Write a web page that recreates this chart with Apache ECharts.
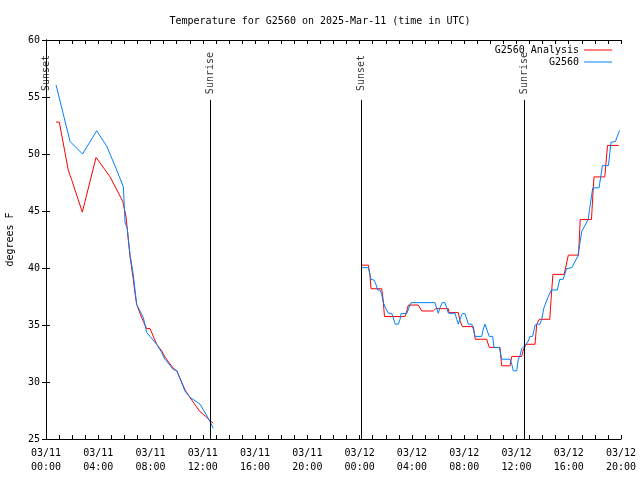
<!DOCTYPE html>
<html>
<head>
<meta charset="utf-8">
<script src="https://cdn.jsdelivr.net/npm/echarts@6/dist/echarts.min.js"></script>
<style>html,body{margin:0;padding:0;background:#fff}#c{width:640px;height:480px}</style>
</head>
<body>
<div id="c"></div>
<script>
// Times are hours since 03/11 00:00 UTC
const titleText = 'Temperature for G2560 on 2025-Mar-11 (time in UTC)';
const yAxisName = 'degrees F';
const xMin = 0, xMax = 44, yMin = 25, yMax = 60;
const dayLabels = ['03/11', '03/12'];

const analysisLeft = [[0.77,52.8],[1.02,52.8],[1.7,48.6],[1.96,47.75],[2.78,44.9],[3.83,49.7],[4.9,48.0],[5.87,45.85],[5.92,45.7],[6.12,44.54],[6.22,43.4],[6.43,41.0],[6.68,39.0],[6.81,37.8],[6.94,36.8],[7.2,36.0],[7.45,35.3],[7.7,34.69],[7.96,34.69],[8.47,33.3],[8.85,32.73],[9.0,32.73],[9.1,32.2],[9.74,31.2],[10.0,31.0],[10.64,29.3],[11.1,28.5],[11.78,27.4],[12.03,27.17],[12.3,26.9],[12.55,26.6],[12.8,26.4]];
const stationLeft = [[0.77,56.06],[1.84,51.1],[2.8,50.0],[3.88,52.04],[4.64,50.7],[5.41,48.6],[5.92,47.1],[5.97,47.0],[6.05,43.96],[6.22,43.5],[6.3,42.5],[6.43,41.2],[6.68,39.4],[6.81,38.1],[6.94,36.8],[7.45,35.65],[7.7,34.35],[7.96,34.0],[8.47,33.3],[8.85,32.6],[9.1,32.0],[9.74,31.1],[10.0,31.0],[10.64,29.2],[11.02,28.65],[11.78,28.07],[11.91,27.92],[12.24,27.17],[12.55,26.52],[12.8,25.94]];

const analysisRight = [[24.16,40.25],[24.67,40.25],[24.79,39.4],[24.87,38.18],[25.69,38.18],[25.81,37.1],[25.9,35.74],[27.47,35.74],[27.6,36.2],[27.73,36.75],[28.49,36.75],[28.75,36.23],[29.64,36.23],[29.82,36.43],[30.79,36.43],[30.84,36.09],[31.55,36.09],[31.68,35.35],[31.86,34.86],[32.7,34.86],[32.85,33.75],[33.72,33.75],[33.92,33.03],[34.74,33.03],[34.82,32.0],[34.87,31.42],[35.51,31.42],[35.64,32.24],[36.4,32.24],[36.52,32.8],[36.73,33.31],[37.42,33.31],[37.55,35.07],[37.75,35.5],[38.55,35.5],[38.65,37.25],[38.79,39.44],[39.65,39.44],[39.97,41.13],[40.75,41.13],[40.88,44.25],[41.74,44.25],[41.93,47.99],[42.76,47.99],[42.97,50.75],[43.83,50.75]];
const stationRight = [[24.16,40.03],[24.67,40.03],[24.79,39.44],[24.87,39.0],[25.1,38.94],[25.25,38.56],[25.38,38.07],[25.56,38.07],[25.69,37.69],[25.81,36.96],[26.02,36.43],[26.19,36.03],[26.45,36.03],[26.53,35.79],[26.73,35.07],[26.96,35.07],[27.09,35.5],[27.17,36.0],[27.6,36.0],[27.93,36.96],[28.24,36.96],[29.77,36.96],[29.9,36.43],[30.02,36.03],[30.15,36.52],[30.33,36.96],[30.53,36.96],[30.66,36.52],[30.79,36.03],[31.3,36.03],[31.43,35.5],[31.55,35.07],[31.68,35.5],[31.86,36.0],[32.06,36.0],[32.32,35.07],[32.58,35.07],[32.7,34.63],[32.83,34.0],[33.34,34.0],[33.46,34.63],[33.59,35.07],[33.72,34.63],[33.92,34.0],[34.18,34.0],[34.28,33.03],[34.69,33.03],[34.87,32.0],[35.51,32.0],[35.64,31.57],[35.76,30.98],[36.02,30.98],[36.14,32.0],[36.27,32.29],[36.4,32.94],[36.65,33.17],[36.78,33.31],[36.91,33.6],[37.04,34.0],[37.24,34.0],[37.42,34.98],[37.6,35.07],[37.8,35.07],[37.95,35.6],[38.1,36.5],[38.4,37.4],[38.66,38.07],[39.13,38.07],[39.31,39.0],[39.57,39.0],[39.84,39.94],[40.23,40.03],[40.7,41.04],[41.0,43.23],[41.49,44.25],[41.59,45.13],[41.84,47.03],[42.32,47.03],[42.58,48.98],[43.04,48.98],[43.23,51.02],[43.57,51.1],[43.89,52.07]];

const eventTimes = [0.0, 12.58, 24.16, 36.6];
const eventNames = ['Sunset', 'Sunrise', 'Sunset', 'Sunrise'];
const eventLineTop = 54.75;
const eventLabelY = 57.1;

const FONT = 'DejaVu Sans Mono';
const gap = [[18, null]];

function xLabel(v) {
  if (v % 4 !== 0) return '';
  const d = Math.floor(v / 24);
  const h = v % 24;
  return dayLabels[d] + '\n' + (h < 10 ? '0' : '') + h + ':00';
}

const chart = echarts.init(document.getElementById('c'), null, {renderer: 'canvas'});
const axisCommon = {
  axisLine: {show: true, lineStyle: {color: '#000', width: 1}},
  axisTick: {show: true, inside: true, length: 4, lineStyle: {color: '#000'}},
  splitLine: {show: false}
};
chart.setOption({
  animation: false,
  backgroundColor: '#fff',
  title: {text: titleText, left: 'center', top: 11, textStyle: {fontFamily: FONT, fontSize: 10, fontWeight: 'normal', color: '#000'}},
  legend: {
    orient: 'vertical', right: 23, top: 40, align: 'right', itemWidth: 28, itemHeight: 1, itemGap: 2, icon: 'rect',
    textStyle: {fontFamily: FONT, fontSize: 10, color: '#000'},
    data: ['G2560 Analysis', 'G2560']
  },
  grid: {left: 46, right: 19, top: 40, bottom: 41, containLabel: false, outerBoundsMode: 'none'},
  xAxis: [
    Object.assign({type: 'value', min: xMin, max: xMax, interval: 1, position: 'bottom',
      axisLabel: {formatter: xLabel, fontFamily: FONT, fontSize: 10, color: '#000', lineHeight: 14, margin: 7}}, axisCommon),
    Object.assign({type: 'value', min: xMin, max: xMax, interval: 1, position: 'top', axisLabel: {show: false}}, axisCommon)
  ],
  yAxis: [
    Object.assign({type: 'value', min: yMin, max: yMax, interval: 5, position: 'left', name: yAxisName, nameLocation: 'middle', nameGap: 31,
      nameTextStyle: {fontFamily: FONT, fontSize: 10, color: '#000'},
      axisLabel: {fontFamily: FONT, fontSize: 10, color: '#000', margin: 6}}, axisCommon),
    Object.assign({type: 'value', min: yMin, max: yMax, interval: 5, position: 'right', axisLabel: {show: false}}, axisCommon)
  ],
  series: [
    {
      name: 'events', type: 'scatter', symbolSize: 0, silent: true,
      data: eventTimes.map((t, i) => ({value: [t, eventLabelY], name: eventNames[i]})),
      label: {show: true, position: 'inside', rotate: 90, formatter: p => p.name, fontFamily: FONT, fontSize: 10, color: '#000'},
      markLine: {
        symbol: 'none', silent: true, label: {show: false},
        lineStyle: {color: '#000', width: 1, type: 'solid'},
        data: eventTimes.map(t => [{coord: [t, yMin]}, {coord: [t, eventLineTop]}])
      }
    },
    {
      name: 'G2560 Analysis', type: 'line', showSymbol: false, symbol: 'none', connectNulls: false,
      lineStyle: {color: '#ff0000', width: 1}, itemStyle: {color: '#ff0000'},
      data: analysisLeft.concat(gap, analysisRight)
    },
    {
      name: 'G2560', type: 'line', showSymbol: false, symbol: 'none', connectNulls: false,
      lineStyle: {color: '#0080ff', width: 1}, itemStyle: {color: '#0080ff'},
      data: stationLeft.concat(gap, stationRight)
    }
  ]
});
</script>
</body>
</html>
